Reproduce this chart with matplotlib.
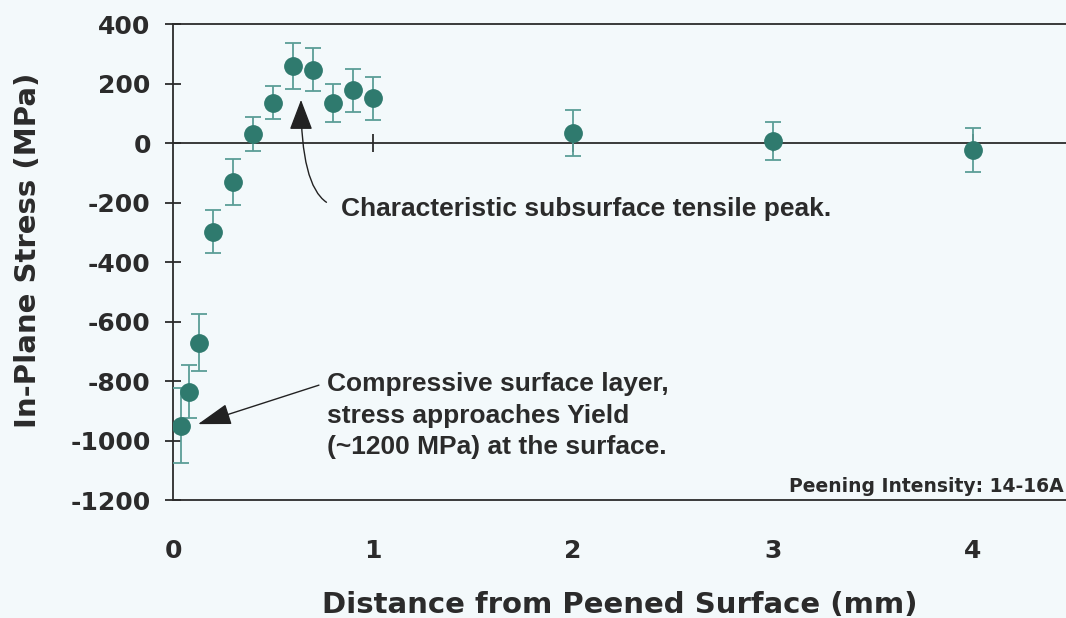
import numpy as np
import matplotlib
matplotlib.use("Agg")
import matplotlib.pyplot as plt

# Data
depth = [0.04, 0.08, 0.13, 0.2, 0.3, 0.4, 0.5, 0.6, 0.7, 0.8, 0.9, 1.0, 2.0, 3.0, 4.0]
stress = [-950, -836, -672, -298, -132, 30, 136, 260, 247, 134, 177, 150, 34, 8, -22]
stress_err = [125, 90, 96, 73, 78, 58, 55, 77, 73, 64, 73, 73, 78, 64, 74]

x_ticks = [0, 1, 2, 3, 4]
y_ticks = [400, 200, 0, -200, -400, -600, -800, -1000, -1200]

bg = "#f3f9fb"
ink = "#2b2b2b"
marker_col = "#2f7a6e"
err_col = "#5b9e97"

plt.rcParams["font.family"] = ["DejaVu Sans"]
plt.rcParams["axes.unicode_minus"] = False

fig = plt.figure(figsize=(10.66, 6.18), dpi=100, facecolor=bg)
ax = fig.add_axes([173 / 1066, 1 - 500 / 618, 1 - 173 / 1066, (500 - 24) / 618])
ax.set_facecolor(bg)

ax.set_xlim(0, 4.465)
ax.set_ylim(-1200, 400)

# zero line with small cross ticks at the integer distances
ax.axhline(0, color=ink, lw=1.3, zorder=1)
ax.plot(x_ticks[1:], [0] * len(x_ticks[1:]), ls="none", marker="|",
        ms=13, mew=1.3, color=ink, zorder=1)

ax.errorbar(depth, stress, yerr=stress_err, fmt="o", ms=12.5,
            mfc=marker_col, mec=marker_col, ecolor=err_col, elinewidth=1.3,
            capsize=5.8, capthick=1.3, zorder=3)

ax.spines["right"].set_visible(False)
for side in ["left", "top", "bottom"]:
    ax.spines[side].set_color(ink)
    ax.spines[side].set_linewidth(1.3)

ax.set_xticks(x_ticks)
ax.set_yticks(y_ticks)
ax.tick_params(axis="x", length=0, pad=28, labelsize=18, labelcolor=ink)
ax.tick_params(axis="y", direction="inout", length=12, width=1.3, color=ink,
               pad=10, labelsize=18, labelcolor=ink)
for lab in ax.get_xticklabels() + ax.get_yticklabels():
    lab.set_fontweight("bold")

ax.set_xlabel("Distance from Peened Surface (mm)", fontsize=21, fontweight="bold",
              color=ink, labelpad=20)
fig.text(28 / 1066, 1 - 250 / 618, "In-Plane Stress (MPa)", rotation=90,
         ha="center", va="center", fontsize=21, fontweight="bold", color=ink)

note_font = dict(family="Liberation Sans", fontsize=19, fontweight="bold", color=ink)

ax.annotate("Characteristic subsurface tensile peak.", xy=(0.64, 145),
            xytext=(0.84, -222), ha="left", va="center",
            arrowprops=dict(arrowstyle="-|>,head_length=1.0,head_width=0.38",
                            color="#222222", lw=1.0,
                            connectionstyle="angle3,angleA=180,angleB=90",
                            relpos=(0, 0.6), shrinkA=9, shrinkB=0),
            **note_font)

ax.annotate("Compressive surface layer,\nstress approaches Yield\n(~1200 MPa) at the surface.",
            xy=(0.125, -945), xytext=(0.77, -770), ha="left", va="top",
            linespacing=1.4,
            arrowprops=dict(arrowstyle="-|>,head_length=1.1,head_width=0.35",
                            color="#222222", lw=1.0, shrinkA=4, shrinkB=0,
                            relpos=(0, 0.88)),
            **note_font)

ax.text(4.455, -1185, "Peening Intensity: 14-16A", ha="right", va="bottom",
        fontsize=13.5, fontweight="bold", color=ink)

fig.savefig("out.png", dpi=100, facecolor=bg)
